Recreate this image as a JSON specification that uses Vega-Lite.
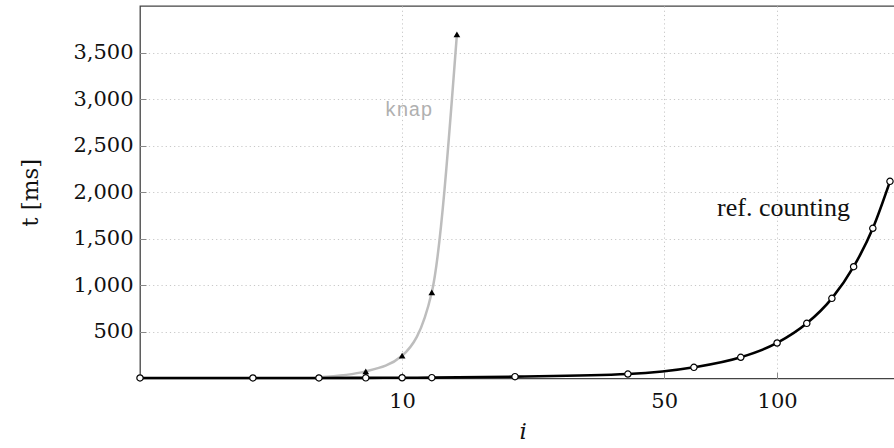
{
  "$schema": "https://vega.github.io/schema/vega-lite/v6.json",
  "autosize": {"type": "none"},
  "padding": {"left": 140, "top": 6, "right": 0, "bottom": 70},
  "width": 765.5,
  "height": 372.5,
  "background": "white",
  "config": {
    "view": {"stroke": "#444444", "strokeWidth": 1.3},
    "axis": {"domain": false, "grid": true, "gridColor": "#c8c8c8", "gridDash": [1.2, 3], "gridWidth": 1,
             "labelFont": "'DejaVu Serif', serif", "labelFontSize": 21, "labelColor": "#111111",
             "titleFont": "'DejaVu Serif', serif", "titleFontSize": 23, "titleFontWeight": "normal", "titleColor": "#111111",
             "tickColor": "#888888", "tickSize": -6}
  },
  "datasets": {
    "ref": [
      {"i": 2, "t": 6}, {"i": 4, "t": 6}, {"i": 6, "t": 6}, {"i": 8, "t": 7}, {"i": 10, "t": 8},
      {"i": 12, "t": 9}, {"i": 20, "t": 20}, {"i": 40, "t": 48}, {"i": 60, "t": 120}, {"i": 80, "t": 228},
      {"i": 100, "t": 382}, {"i": 120, "t": 593}, {"i": 140, "t": 862}, {"i": 160, "t": 1202},
      {"i": 180, "t": 1615}, {"i": 200, "t": 2120}
    ],
    "knap": [
      {"i": 6, "t": 14}, {"i": 8, "t": 77}, {"i": 10, "t": 245}, {"i": 12, "t": 927}, {"i": 14, "t": 3700}
    ],
    "labels": [
      {"i": 104, "t": 1833, "text": "ref. counting", "series": "ref"},
      {"i": 10.4, "t": 2887, "text": "knap", "series": "knap"}
    ]
  },
  "encoding": {
    "x": {"field": "i", "type": "quantitative",
          "scale": {"type": "log", "domain": [2, 220], "nice": false, "zero": false},
          "axis": {"values": [10, 50, 100], "format": "d", "labelPadding": 18, "title": "i", "titleFontStyle": "italic", "titlePadding": 9}},
    "y": {"field": "t", "type": "quantitative",
          "scale": {"domain": [0, 4005], "nice": false},
          "axis": {"values": [500, 1000, 1500, 2000, 2500, 3000, 3500], "format": ",d", "labelPadding": 13, "title": "t [ms]", "titlePadding": 30}}
  },
  "layer": [
    {"data": {"name": "knap"}, "mark": {"type": "line", "color": "#bdbdbd", "strokeWidth": 2.5, "interpolate": "monotone"}},
    {"data": {"name": "knap"}, "mark": {"type": "point", "shape": "triangle-up", "filled": true, "color": "black", "size": 45, "opacity": 1}},
    {"data": {"name": "ref"}, "mark": {"type": "line", "color": "black", "strokeWidth": 2.6, "interpolate": "monotone"}},
    {"data": {"name": "ref"}, "mark": {"type": "point", "shape": "circle", "filled": true, "fill": "white", "stroke": "black", "strokeWidth": 1.2, "size": 40, "opacity": 1}},
    {"data": {"name": "labels"}, "transform": [{"filter": "datum.series == 'ref'"}],
     "mark": {"type": "text", "font": "serif", "fontSize": 26, "color": "#111111", "align": "center", "baseline": "middle"},
     "encoding": {"text": {"field": "text"}}},
    {"data": {"name": "labels"}, "transform": [{"filter": "datum.series == 'knap'"}],
     "mark": {"type": "text", "font": "'Liberation Mono', 'DejaVu Sans Mono', Courier, monospace", "fontSize": 20, "color": "#b0b0b0", "align": "center", "baseline": "middle"},
     "encoding": {"text": {"field": "text"}}}
  ]
}
